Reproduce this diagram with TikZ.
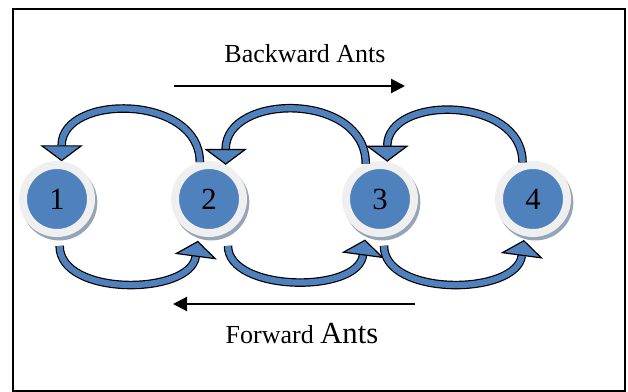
\documentclass[tikz,border=0pt]{standalone}
\usepackage{fontspec}
\setmainfont{Liberation Serif}
\usetikzlibrary{arrows.meta,shadows}
\definecolor{antblue}{RGB}{79,129,189}
\definecolor{ringgray}{RGB}{239,239,239}
\definecolor{shadowgray}{RGB}{150,164,184}
\tikzset{
	antnode/.style={
		circle, inner sep=0pt, minimum size=51pt,
		fill=antblue, draw=ringgray, line width=6pt,
		general shadow={fill=shadowgray, shadow scale=1.12, shadow xshift=1.5pt, shadow yshift=-2.25pt},
		font=\fontsize{23}{23}\selectfont},
	antloop/.style={
		draw=black, line width=0.9pt, double=antblue, double distance=4.6pt,
		-{Triangle[width=32pt,length=12pt,fill=antblue,line width=0.9pt]}},
	antdir/.style={line width=1.6pt, -{Triangle[width=10.5pt,length=10.5pt]}}
}
\begin{document}
\begin{tikzpicture}[x=0.75pt,y=0.75pt,yscale=-1,xscale=1]
\useasboundingbox (0,0) rectangle (628,392);
\draw [line width=1.5pt] (13,9) rectangle (625,391);

% nodes
\draw (57,199) node [antnode] (n1) {1};
\draw (209,199) node [antnode] (n2) {2};
\draw (380,199) node [antnode] (n3) {3};
\draw (533,199) node [antnode] (n4) {4};

% backward loops (top)
\draw [antloop] (n2.104) .. controls +(0,-68) and +(0,-68) .. (n1.83);
\draw [antloop] (n3.112) .. controls +(0,-72) and +(0,-72) .. (n2.64);
\draw [antloop] (n4.106) .. controls +(0,-67) and +(0,-67) .. (n3.79);

% forward loops (bottom)
\draw [antloop, shorten <=6.75pt, shorten >=4pt] (n1.-86) .. controls +(0,60) and +(-8,60) .. (n2.-106);
\draw [antloop, shorten <=10.5pt, shorten >=4pt] (n2.-60) .. controls +(0,60) and +(-8,60) .. (n3.-112);
\draw [antloop, shorten <=6.75pt, shorten >=3pt] (n3.-84) .. controls +(0,60) and +(-8,60) .. (n4.-103);

% direction arrows
\coordinate (bwtail) at (174,86);
\coordinate (bwhead) at (405,86);
\draw [antdir] (bwtail) -- (bwhead);
\coordinate (fwtail) at (415,304);
\coordinate (fwhead) at (173,304);
\draw [antdir] (fwtail) -- (fwhead);

\draw (305,63) node [anchor=base, font=\fontsize{19.5}{19.5}\selectfont] (bwlabel) {Backward Ants};
\draw (302,343) node [anchor=base, font=\fontsize{19.5}{19.5}\selectfont] (fwlabel) {Forward {\fontsize{23}{23}\selectfont Ants}};

\end{tikzpicture}
\end{document}
